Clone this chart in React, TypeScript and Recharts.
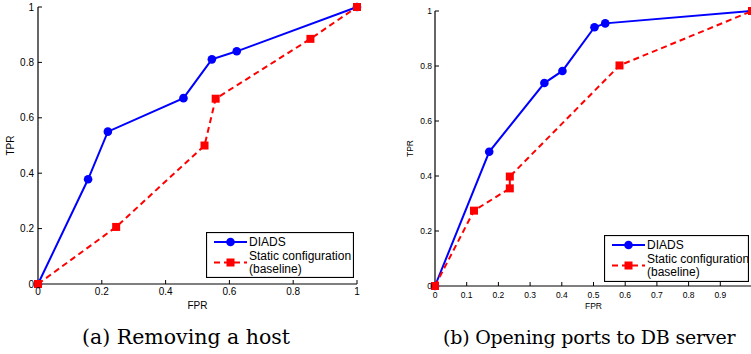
import { LineChart, Line, XAxis, YAxis, Legend } from 'recharts'

// (a) Removing a host
const aDiadsFpr = [0, 0.157, 0.219, 0.456, 0.545, 0.623, 1]
const aDiadsTpr = [0, 0.378, 0.55, 0.671, 0.811, 0.84, 1]
const aStaticFpr = [0, 0.245, 0.522, 0.557, 0.854, 1]
const aStaticTpr = [0, 0.206, 0.5, 0.669, 0.885, 1]

// (b) Opening ports to DB server
const bDiadsFpr = [0, 0.171, 0.345, 0.402, 0.503, 0.537, 1]
const bDiadsTpr = [0, 0.488, 0.738, 0.782, 0.941, 0.955, 1]
const bStaticFpr = [0, 0.123, 0.236, 0.236, 0.582, 1]
const bStaticTpr = [0, 0.274, 0.355, 0.398, 0.802, 1]

const aXTicks = [0, 0.2, 0.4, 0.6, 0.8, 1]
const bXTicks = [0, 0.1, 0.2, 0.3, 0.4, 0.5, 0.6, 0.7, 0.8, 0.9, 1]
const yTicks = [0, 0.2, 0.4, 0.6, 0.8, 1]

const seriesNames = ['DIADS', 'Static configuration', '(baseline)']
const captions = ['(a) Removing a host', '(b) Opening ports to DB server']

const BLUE = '#0000ff'
const RED = '#ff0000'
const SANS = 'Liberation Sans, Arial, sans-serif'

const toRows = (fpr: number[], tpr: number[]) => fpr.map((f, i) => ({ fpr: f, tpr: tpr[i] }))

const Square = (props: any) => {
  const { cx, cy, index } = props
  if (cx == null || cy == null) return <g key={`sq-${index}`} />
  return <rect key={`sq-${index}`} x={cx - 4} y={cy - 4} width={8} height={8} fill={RED} />
}

function LegendBox({ w, h }: { w: number; h: number }) {
  return (
    <svg width={w} height={h} style={{ display: 'block' }}>
      <rect x={0.5} y={0.5} width={w - 1} height={h - 1} fill="#fff" stroke="#000" strokeWidth={1.2} />
      <line x1={8} y1={10} x2={41} y2={10} stroke={BLUE} strokeWidth={2} />
      <circle cx={24.5} cy={10} r={4.3} fill={BLUE} />
      <text x={43} y={10} dominantBaseline="central" fontSize={12} fontFamily={SANS} fill="#000">{seriesNames[0]}</text>
      <line x1={8} y1={30.5} x2={41} y2={30.5} stroke={RED} strokeWidth={2} strokeDasharray="6 4" />
      <rect x={20.5} y={26.5} width={8} height={8} fill={RED} />
      <text x={43} y={24.3} dominantBaseline="central" fontSize={12} fontFamily={SANS} fill="#000">{seriesNames[1]}</text>
      <text x={43} y={37} dominantBaseline="central" fontSize={12} fontFamily={SANS} fill="#000">{seriesNames[2]}</text>
    </svg>
  )
}

interface PanelProps {
  diads: { fpr: number; tpr: number }[]
  stat: { fpr: number; tpr: number }[]
  xTicks: number[]
  width: number
  height: number
  margin: { top: number; right: number; left: number; bottom: number }
  yAxisWidth: number
  fontSize: number
  yTickMargin: number
  xTickMargin: number
  tprOffset: number
  fprOffset: number
  legendPos: { left: number; top: number; w: number; h: number }
  hideLast?: boolean
}

function Panel(p: PanelProps) {
  const tick = { fontSize: p.fontSize, fill: '#000', fontFamily: SANS }
  return (
    <LineChart width={p.width} height={p.height} margin={p.margin}>
      <XAxis
        dataKey="fpr"
        type="number"
        domain={[0, 1]}
        ticks={p.xTicks}
        interval={0}
        tick={tick}
        tickSize={-4}
        tickMargin={p.xTickMargin}
        tickFormatter={(v: number) => (p.hideLast && v === 1 ? '' : String(v))}
        axisLine={{ stroke: '#000', strokeWidth: 1.2 }}
        tickLine={{ stroke: '#000' }}
        height={30}
        label={{ value: 'FPR', position: 'insideBottom', offset: p.fprOffset, fontSize: p.fontSize, fill: '#000', fontFamily: SANS }}
      />
      <XAxis
        xAxisId="top"
        orientation="top"
        type="number"
        domain={[0, 1]}
        allowDataOverflow
        ticks={p.xTicks}
        interval={0}
        height={0}
        tickSize={-4}
        tickFormatter={() => ''}
        axisLine={{ stroke: '#000', strokeWidth: 1.2 }}
        tickLine={{ stroke: '#000' }}
      />
      <YAxis
        type="number"
        domain={[0, 1]}
        ticks={yTicks}
        interval={0}
        width={p.yAxisWidth}
        tick={tick}
        tickSize={-4}
        tickMargin={p.yTickMargin}
        axisLine={{ stroke: '#000', strokeWidth: 1.2 }}
        tickLine={{ stroke: '#000' }}
        label={{
          value: 'TPR',
          angle: -90,
          position: 'insideLeft',
          offset: p.tprOffset,
          fontSize: p.fontSize,
          fill: '#000',
          fontFamily: SANS,
          style: { textAnchor: 'middle' },
        }}
      />
      <YAxis
        yAxisId="r"
        orientation="right"
        type="number"
        domain={[0, 1]}
        allowDataOverflow
        ticks={yTicks}
        interval={0}
        width={0}
        tickSize={-4}
        tickFormatter={() => ''}
        axisLine={{ stroke: '#000', strokeWidth: 1.2 }}
        tickLine={{ stroke: '#000' }}
      />
      <Line
        data={p.diads}
        dataKey="tpr"
        name={seriesNames[0]}
        stroke={BLUE}
        strokeWidth={2}
        dot={{ r: 4.3, fill: BLUE, stroke: BLUE, strokeWidth: 0 }}
        isAnimationActive={false}
      />
      <Line
        data={p.stat}
        dataKey="tpr"
        name={seriesNames[1]}
        stroke={RED}
        strokeWidth={2}
        strokeDasharray="6 4"
        dot={Square}
        isAnimationActive={false}
      />
      <Legend
        layout="vertical"
        align="center"
        verticalAlign="middle"
        wrapperStyle={{ left: p.legendPos.left, top: p.legendPos.top, width: p.legendPos.w, height: p.legendPos.h }}
        content={() => <LegendBox w={p.legendPos.w} h={p.legendPos.h} />}
      />
    </LineChart>
  )
}

const captionStyle = {
  position: 'absolute' as const,
  top: 325,
  fontFamily: 'DejaVu Serif, serif',
  lineHeight: '24px',
  whiteSpace: 'nowrap' as const,
  color: '#000',
}

export default function App() {
  return (
    <div style={{ position: 'absolute', left: 0, top: 0, width: 751, height: 354, overflow: 'hidden', background: '#fff' }}>
      <div style={{ position: 'absolute', left: 0, top: 0 }}>
        <Panel
          diads={toRows(aDiadsFpr, aDiadsTpr)}
          stat={toRows(aStaticFpr, aStaticTpr)}
          xTicks={aXTicks}
          width={370}
          height={320}
          margin={{ top: 7, right: 13, left: 0, bottom: 6 }}
          yAxisWidth={38}
          fontSize={10}
          yTickMargin={8}
          xTickMargin={8}
          tprOffset={10}
          fprOffset={5}
          legendPos={{ left: 206, top: 232, w: 148, h: 46 }}
        />
      </div>
      <div style={{ position: 'absolute', left: 380, top: 0 }}>
        <Panel
          diads={toRows(bDiadsFpr, bDiadsTpr)}
          stat={toRows(bStaticFpr, bStaticTpr)}
          xTicks={bXTicks}
          width={380}
          height={320}
          margin={{ top: 11, right: 8, left: 0, bottom: 4 }}
          yAxisWidth={55}
          fontSize={8.5}
          yTickMargin={7}
          xTickMargin={10}
          tprOffset={30}
          fprOffset={7}
          legendPos={{ left: 224, top: 235, w: 145, h: 47 }}
          hideLast
        />
      </div>
      <div style={{ ...captionStyle, left: 82, fontSize: 20.5 }}>{captions[0]}</div>
      <div style={{ ...captionStyle, left: 443, fontSize: 19, letterSpacing: -0.2 }}>{captions[1]}</div>
    </div>
  )
}
